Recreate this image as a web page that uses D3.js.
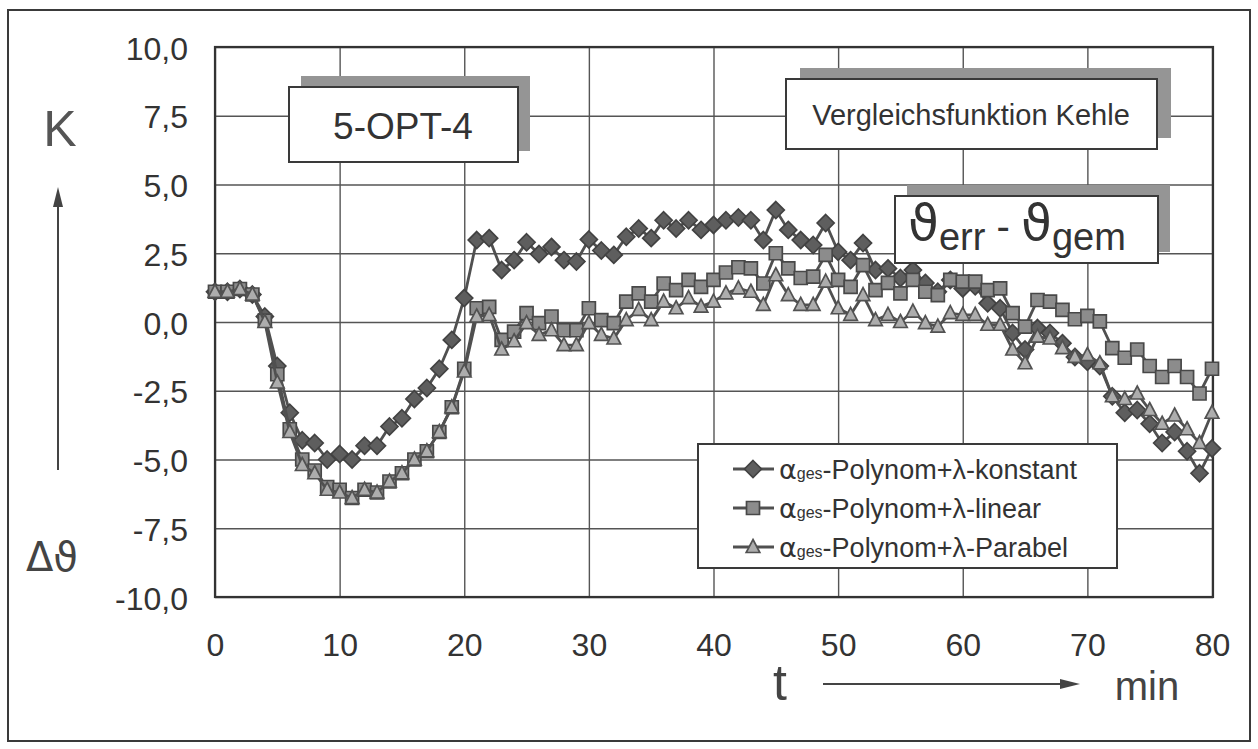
<!DOCTYPE html>
<html><head><meta charset="utf-8">
<script src="https://cdn.jsdelivr.net/npm/d3@7/dist/d3.min.js"></script>
<style>
html,body{margin:0;padding:0;background:#fff;}
svg{display:block;}
</style></head>
<body>
<svg id="chart" width="1258" height="749"></svg>
<script>
// ---------------- data ----------------
const minutes = [0,1,2,3,4,5,6,7,8,9,10,11,12,13,14,15,16,17,18,19,20,21,22,23,24,25,26,27,28,29,30,31,32,33,34,35,36,37,38,39,40,41,42,43,44,45,46,47,48,49,50,51,52,53,54,55,56,57,58,59,60,61,62,63,64,65,66,67,68,69,70,71,72,73,74,75,76,77,78,79,80];
const konstant = [1.1,1.1,1.2,1.0,0.2,-1.6,-3.3,-4.3,-4.4,-5.0,-4.8,-5.0,-4.5,-4.5,-3.8,-3.5,-2.8,-2.4,-1.7,-0.65,0.87,2.98,3.05,1.89,2.25,2.9,2.47,2.73,2.25,2.2,3.0,2.6,2.44,3.1,3.4,3.05,3.7,3.4,3.7,3.35,3.53,3.7,3.8,3.7,2.98,4.07,3.35,2.98,2.8,3.6,2.55,2.25,2.87,1.89,1.95,1.6,1.89,1.42,1.1,1.53,1.22,1.3,0.68,0.5,-0.4,-1.0,-0.22,-0.4,-0.77,-1.27,-1.45,-1.6,-2.7,-3.3,-3.2,-3.7,-4.4,-4.0,-4.7,-5.5,-4.6];
const linear = [1.1,1.1,1.2,1.0,0.05,-1.9,-3.9,-5.0,-5.4,-6.0,-6.1,-6.4,-6.1,-6.2,-5.8,-5.5,-5.0,-4.7,-4.0,-3.1,-1.7,0.5,0.55,-0.65,-0.35,0.32,-0.04,0.2,-0.3,-0.3,0.5,0.07,-0.04,0.74,1.04,0.74,1.4,1.16,1.53,1.28,1.53,1.8,1.99,1.95,1.4,2.5,1.95,1.6,1.65,2.44,1.53,1.28,2.07,1.16,1.42,1.04,1.53,1.1,0.98,1.53,1.47,1.47,1.16,1.22,0.32,-0.17,0.8,0.74,0.44,0.1,0.22,0.02,-0.95,-1.3,-1.0,-1.6,-2.0,-1.6,-2.0,-2.6,-1.7];
const parabel = [1.1,1.1,1.2,1.0,0.0,-2.2,-4.0,-5.2,-5.5,-6.1,-6.2,-6.4,-6.1,-6.2,-5.8,-5.5,-5.0,-4.7,-4.0,-3.1,-1.8,0.2,0.25,-1.0,-0.7,-0.04,-0.47,-0.3,-0.84,-0.84,-0.04,-0.47,-0.6,0.07,0.44,0.07,0.74,0.5,0.87,0.56,0.74,1.04,1.22,1.1,0.62,1.7,0.98,0.62,0.62,1.47,0.5,0.26,0.98,0.07,0.26,0.0,0.38,-0.04,-0.17,0.32,0.26,0.26,-0.1,-0.1,-1.0,-1.5,-0.53,-0.6,-0.95,-1.27,-1.2,-1.5,-2.7,-2.8,-2.6,-3.2,-3.7,-3.4,-3.9,-4.4,-3.3];
const seriesNames = ["-Polynom+\u03bb-konstant","-Polynom+\u03bb-linear","-Polynom+\u03bb-Parabel"];
const yTicks = [10,7.5,5,2.5,0,-2.5,-5,-7.5,-10];
const yTickLabels = ["10,0","7,5","5,0","2,5","0,0","-2,5","-5,0","-7,5","-10,0"];
const xTicks = [0,10,20,30,40,50,60,70,80];
const xTickLabels = ["0","10","20","30","40","50","60","70","80"];

// ---------------- layout ----------------
const svg = d3.select("#chart");
const FONT = "'Liberation Sans', Arial, Helvetica, sans-serif";
const GREEK = "'DejaVu Sans', 'Liberation Sans', sans-serif";
const P = {left:215, top:47, right:1213, bottom:597};
const x = d3.scaleLinear().domain([0,80]).range([P.left, 1212]);
const y = d3.scaleLinear().domain([-10,10]).range([P.bottom, P.top]);

// outer frame
svg.append("rect").attr("x",8).attr("y",10).attr("width",1242).attr("height",731)
  .attr("fill","#fff").attr("stroke","#3a3a3a").attr("stroke-width",2);

// plot background
svg.append("rect").attr("x",P.left).attr("y",P.top).attr("width",P.right-P.left).attr("height",P.bottom-P.top)
  .attr("fill","#fff");

// gridlines
const gy = svg.append("g").attr("transform",`translate(${P.left},0)`)
  .call(d3.axisLeft(y).tickValues(yTicks).tickSize(-(P.right-P.left)).tickFormat(""));
gy.select(".domain").remove();
gy.selectAll("line").attr("stroke","#555").attr("stroke-width",1.4);
const gx = svg.append("g").attr("transform",`translate(0,${P.bottom})`)
  .call(d3.axisBottom(x).tickValues(xTicks).tickSize(-(P.bottom-P.top)).tickFormat(""));
gx.select(".domain").remove();
gx.selectAll("line").attr("stroke","#555").attr("stroke-width",1.4);

// tick labels
const ay = svg.append("g").attr("transform",`translate(${P.left},0)`)
  .call(d3.axisLeft(y).tickValues(yTicks).tickSize(0).tickPadding(27).tickFormat((d,i)=>yTickLabels[i]));
ay.select(".domain").remove();
ay.selectAll("text").attr("font-family",FONT).attr("font-size",32).attr("fill","#333").attr("dy","0.38em");
const ax = svg.append("g").attr("transform",`translate(0,${P.bottom})`)
  .call(d3.axisBottom(x).tickValues(xTicks).tickSize(0).tickPadding(36).tickFormat((d,i)=>xTickLabels[i]));
ax.select(".domain").remove();
ax.selectAll("text").attr("font-family",FONT).attr("font-size",32).attr("fill","#333");

// plot border
svg.append("rect").attr("x",P.left).attr("y",P.top).attr("width",P.right-P.left).attr("height",P.bottom-P.top)
  .attr("fill","none").attr("stroke","#333").attr("stroke-width",2.2);

// ---------------- series ----------------
const line = d3.line().x((d,i)=>x(minutes[i])).y(d=>y(d));
const markerPaths = {
  diamond: "M0,-8.5L8.5,0L0,8.5L-8.5,0Z",
  square: "M-6.5,-6.5H6.5V6.5H-6.5Z",
  triangle: "M0,-7.5L6.8,5.5H-6.8Z"
};
const seriesDefs = [
  {vals:konstant, shape:"diamond", fill:"#5e5e5e", stroke:"#424242"},
  {vals:linear, shape:"square", fill:"#8c8c8c", stroke:"#484848"},
  {vals:parabel, shape:"triangle", fill:"#adadad", stroke:"#525252"}
];
seriesDefs.forEach(s=>{
  const g = svg.append("g");
  g.append("path").attr("d",line(s.vals)).attr("fill","none").attr("stroke","#505050").attr("stroke-width",2.8);
  g.selectAll("path.m").data(s.vals).join("path").attr("class","m")
    .attr("d",markerPaths[s.shape])
    .attr("transform",(d,i)=>`translate(${x(minutes[i])},${y(d)})`)
    .attr("fill",s.fill).attr("stroke",s.stroke).attr("stroke-width",1.7);
});

// ---------------- annotation boxes ----------------
function shadowBox(x0,y0,w,h,dx,dy){
  svg.append("rect").attr("x",x0+dx).attr("y",y0+dy).attr("width",w).attr("height",h).attr("fill","#959595");
  svg.append("rect").attr("x",x0).attr("y",y0).attr("width",w).attr("height",h)
    .attr("fill","#fff").attr("stroke","#3a3a3a").attr("stroke-width",2);
}
shadowBox(289,87,229,75,12,-11);
svg.append("text").attr("x",403).attr("y",139).attr("text-anchor","middle")
  .attr("font-family",FONT).attr("font-size",37).attr("fill","#333").text("5-OPT-4");

shadowBox(786,79,371,70,14,-11);
svg.append("text").attr("x",971).attr("y",125).attr("text-anchor","middle")
  .attr("font-family",FONT).attr("font-size",29).attr("fill","#333").text("Vergleichsfunktion Kehle");

shadowBox(895,196,263,67,12,-11);
const th = svg.append("text").attr("x",908).attr("y",240)
  .attr("font-family",FONT).attr("fill","#333");
th.append("tspan").attr("font-family",GREEK).attr("font-size",50).text("\u03d1");
th.append("tspan").attr("font-size",38).attr("dy",10).text("err");
th.append("tspan").attr("font-size",40).attr("dy",-10).text(" - ");
th.append("tspan").attr("font-family",GREEK).attr("font-size",50).text("\u03d1");
th.append("tspan").attr("font-size",38).attr("dy",10).text("gem");

// ---------------- legend ----------------
svg.append("rect").attr("x",698).attr("y",444).attr("width",419).attr("height",124)
  .attr("fill","#fff").attr("stroke","#3a3a3a").attr("stroke-width",2);
const legY = [469,508,547];
seriesDefs.forEach((s,i)=>{
  const cy = legY[i];
  svg.append("line").attr("x1",733).attr("x2",774).attr("y1",cy).attr("y2",cy)
    .attr("stroke","#505050").attr("stroke-width",2.8);
  svg.append("path").attr("d",markerPaths[s.shape]).attr("transform",`translate(753,${cy})`)
    .attr("fill",s.fill).attr("stroke",s.stroke).attr("stroke-width",1.7);
  const t = svg.append("text").attr("x",779).attr("y",cy+10)
    .attr("font-family",FONT).attr("font-size",27).attr("fill","#333");
  t.append("tspan").attr("font-family",GREEK).attr("font-size",27).text("\u03b1");
  t.append("tspan").attr("font-size",16).text("ges");
  t.append("tspan").attr("font-size",27).text(seriesNames[i]);
});

// ---------------- axis titles ----------------
svg.append("text").attr("x",60).attr("y",146).attr("text-anchor","middle")
  .attr("font-family",FONT).attr("font-size",50).attr("fill","#555").text("K");
svg.append("line").attr("x1",58).attr("x2",58).attr("y1",470).attr("y2",205)
  .attr("stroke","#444").attr("stroke-width",2);
svg.append("path").attr("d","M58,187L53,207L63,207Z").attr("fill","#444");
svg.append("text").attr("x",52).attr("y",571).attr("text-anchor","middle")
  .attr("font-family",GREEK).attr("font-size",40).attr("fill","#444").text("\u0394\u03d1");

svg.append("text").attr("x",780).attr("y",700).attr("text-anchor","middle")
  .attr("font-family",FONT).attr("font-size",50).attr("fill","#444").text("t");
svg.append("line").attr("x1",823).attr("x2",1062).attr("y1",684).attr("y2",684)
  .attr("stroke","#444").attr("stroke-width",2);
svg.append("path").attr("d","M1080,684L1060,679L1060,689Z").attr("fill","#444");
svg.append("text").attr("x",1147).attr("y",700).attr("text-anchor","middle")
  .attr("font-family",FONT).attr("font-size",40).attr("fill","#444").text("min");
</script>
</body></html>
